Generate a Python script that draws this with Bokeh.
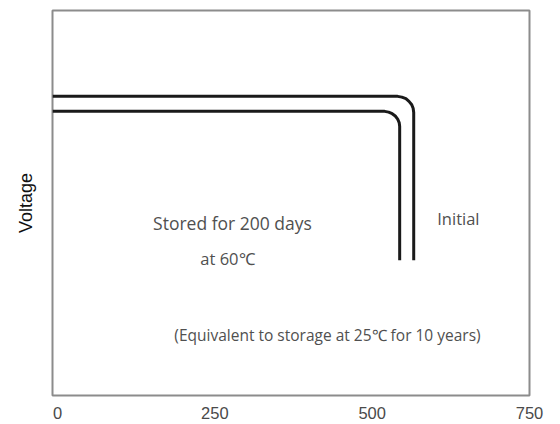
from bokeh.plotting import figure
from bokeh.embed import file_html
from bokeh.resources import INLINE
from bokeh.core.properties import value
from bokeh.models import Range1d, FixedTicker

# Discharge curves (capacity vs voltage, arbitrary voltage units)
capacity_initial = [-8, 540.5, 547.1, 553.6, 558.5, 562.6, 565.1, 566, 566]
voltage_initial = [77.7, 77.7, 77.5, 77.1, 76.4, 75.6, 74.6, 73.5, 35.1]
capacity_stored = [-8, 519.9, 526.1, 531.8, 536.7, 540.5, 542.9, 543.7, 543.7]
voltage_stored = [73.8, 73.8, 73.6, 73.2, 72.6, 71.8, 70.9, 69.9, 35.1]

x_ticks = [0, 250, 500, 750]

label_texts = ["Stored for 200 days", "at 60℃", "Initial",
               "(Equivalent to storage at 25℃ for 10 years)"]
label_x = [278, 270, 637, 429]
label_y = [44.9, 35.6, 46, 15.6]
label_sizes = ["17.5px", "16.5px", "16.5px", "15.5px"]

p = figure(frame_width=477, frame_height=385, output_backend="svg",
           toolbar_location=None, x_range=Range1d(-8, 750), y_range=Range1d(0, 100),
           min_border_left=52, min_border_right=23, min_border_top=10, min_border_bottom=21)

p.line(capacity_initial, voltage_initial, line_width=3, line_color="#1a1a1a", line_join="round")
p.line(capacity_stored, voltage_stored, line_width=3, line_color="#1a1a1a", line_join="round")

p.text(x=label_x, y=label_y, text=label_texts, text_align="center", text_baseline="middle",
       text_font=value("Open Sans"), text_font_size=label_sizes, text_color="#505050")

p.xgrid.visible = False
p.ygrid.visible = False
p.outline_line_color = "#8c8c8c"
p.outline_line_width = 2
p.outline_line_alpha = 1

p.xaxis.ticker = FixedTicker(ticks=x_ticks)
p.xaxis.axis_line_color = None
p.xaxis.major_tick_line_color = None
p.xaxis.minor_tick_line_color = None
p.xaxis.major_label_standoff = 5
p.xaxis.major_label_text_font = "Liberation Sans"
p.xaxis.major_label_text_font_size = "16.5px"
p.xaxis.major_label_text_color = "#4a4a4a"

p.yaxis.ticker = FixedTicker(ticks=[])
p.yaxis.axis_line_color = None
p.yaxis.major_tick_line_color = None
p.yaxis.minor_tick_line_color = None
p.yaxis.axis_label = "Voltage"
p.yaxis.axis_label_text_font = "Liberation Sans"
p.yaxis.axis_label_text_font_style = "normal"
p.yaxis.axis_label_text_font_size = "18px"
p.yaxis.axis_label_text_color = "#111111"
p.yaxis.axis_label_standoff = 17

open("out.html", "w").write(file_html(p, INLINE))
